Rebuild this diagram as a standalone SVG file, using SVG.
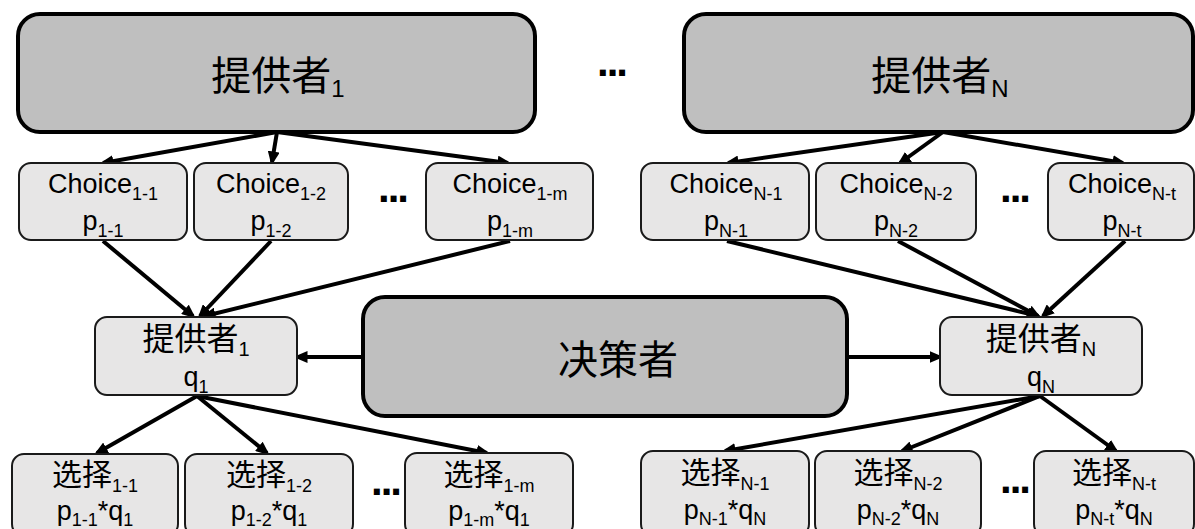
<svg xmlns="http://www.w3.org/2000/svg" width="1195" height="529" viewBox="0 0 1195 529">
<style>
.big{fill:#bfbfbf;stroke:#000;stroke-width:4}
.sm{fill:#e7e6e6;stroke:#1a1a1a;stroke-width:2}
text{font-family:"Liberation Sans","Noto Sans CJK SC",sans-serif;fill:#000;text-anchor:middle}
.t40{font-size:40px}
.t32{font-size:32px}
.t30{font-size:30px}
.t27{font-size:27px}
.dots{font-size:42px;font-weight:bold;text-anchor:start;letter-spacing:-2px}
.conn line{stroke:#000;stroke-width:4;marker-end:url(#ah)}
</style>
<defs>
<marker id="ah" viewBox="0 0 14 12" refX="10.5" refY="6" markerWidth="14" markerHeight="12" markerUnits="userSpaceOnUse" orient="auto">
<path d="M0,0 L14,6 L0,12 z" fill="#000"/>
</marker>
</defs>

<g class="conn" id="connectors">
<line x1="277" y1="132" x2="103" y2="163"/>
<line x1="277" y1="132" x2="272" y2="162"/>
<line x1="277" y1="132" x2="508" y2="163"/>
<line x1="943" y1="132" x2="728" y2="163"/>
<line x1="943" y1="132" x2="900" y2="163"/>
<line x1="943" y1="132" x2="1123" y2="163"/>
<line x1="103" y1="241" x2="193" y2="316"/>
<line x1="271" y1="241" x2="200" y2="316"/>
<line x1="510" y1="241" x2="205" y2="316"/>
<line x1="727" y1="241" x2="1038" y2="316"/>
<line x1="898" y1="241" x2="1038" y2="316"/>
<line x1="1125" y1="241" x2="1043" y2="316"/>
<line x1="363" y1="357" x2="297" y2="357"/>
<line x1="847" y1="357" x2="940" y2="357"/>
<line x1="197" y1="396" x2="97" y2="453"/>
<line x1="197" y1="396" x2="267" y2="453"/>
<line x1="197" y1="396" x2="487" y2="453"/>
<line x1="1040" y1="396" x2="725" y2="451"/>
<line x1="1040" y1="396" x2="902" y2="451"/>
<line x1="1040" y1="396" x2="1116" y2="451"/>
</g>

<g id="provider1">
<rect class="big" x="18" y="14" width="517" height="118" rx="22"/>
<text class="t40" x="278" y="90">提供者<tspan font-size="24" dy="7">1</tspan></text>
</g>
<g id="providerN">
<rect class="big" x="684" y="14" width="509" height="118" rx="22"/>
<text class="t40" x="940" y="90">提供者<tspan font-size="24" dy="7">N</tspan></text>
</g>
<text class="dots" x="597" y="76">...</text>

<g id="choice11">
<rect class="sm" x="19" y="163" width="168" height="77" rx="12"/>
<text class="t27" x="103" y="193">Choice<tspan font-size="18" dy="7">1-1</tspan></text>
<text class="t27" x="103" y="230">p<tspan font-size="18" dy="7">1-1</tspan></text>
</g>
<g id="choice12">
<rect class="sm" x="194" y="163" width="154" height="77" rx="12"/>
<text class="t27" x="271" y="193">Choice<tspan font-size="18" dy="7">1-2</tspan></text>
<text class="t27" x="271" y="230">p<tspan font-size="18" dy="7">1-2</tspan></text>
</g>
<text class="dots" x="378" y="202">...</text>
<g id="choice1m">
<rect class="sm" x="426" y="163" width="167" height="77" rx="12"/>
<text class="t27" x="510" y="193">Choice<tspan font-size="18" dy="7">1-m</tspan></text>
<text class="t27" x="510" y="230">p<tspan font-size="18" dy="7">1-m</tspan></text>
</g>

<g id="choiceN1">
<rect class="sm" x="641" y="163" width="168" height="77" rx="12"/>
<text class="t27" x="726" y="193">Choice<tspan font-size="18" dy="7">N-1</tspan></text>
<text class="t27" x="726" y="230">p<tspan font-size="18" dy="7">N-1</tspan></text>
</g>
<g id="choiceN2">
<rect class="sm" x="816" y="163" width="160" height="77" rx="12"/>
<text class="t27" x="896" y="193">Choice<tspan font-size="18" dy="7">N-2</tspan></text>
<text class="t27" x="896" y="230">p<tspan font-size="18" dy="7">N-2</tspan></text>
</g>
<text class="dots" x="1000" y="202">...</text>
<g id="choiceNt">
<rect class="sm" x="1048" y="163" width="146" height="77" rx="12"/>
<text class="t27" x="1122" y="193">Choice<tspan font-size="18" dy="7">N-t</tspan></text>
<text class="t27" x="1122" y="230">p<tspan font-size="18" dy="7">N-t</tspan></text>
</g>

<g id="midProvider1">
<rect class="sm" x="95" y="317" width="202" height="78" rx="12"/>
<text class="t32" x="196" y="350">提供者<tspan font-size="20" dy="6">1</tspan></text>
<text class="t27" x="196" y="386">q<tspan font-size="18" dy="7">1</tspan></text>
</g>
<g id="decider">
<rect class="big" x="363" y="297" width="484" height="119" rx="22"/>
<text class="t40" x="618" y="374">决策者</text>
</g>
<g id="midProviderN">
<rect class="sm" x="940" y="317" width="202" height="78" rx="12"/>
<text class="t32" x="1041" y="350">提供者<tspan font-size="20" dy="6">N</tspan></text>
<text class="t27" x="1041" y="386">q<tspan font-size="18" dy="7">N</tspan></text>
</g>

<g id="sel11">
<rect class="sm" x="12" y="454" width="166" height="82" rx="12"/>
<text class="t30" x="95" y="485">选择<tspan font-size="18" dy="7">1-1</tspan></text>
<text class="t27" x="95" y="520">p<tspan font-size="18" dy="6">1-1</tspan><tspan dy="-6">*q</tspan><tspan font-size="18" dy="6">1</tspan></text>
</g>
<g id="sel12">
<rect class="sm" x="185" y="454" width="168" height="82" rx="12"/>
<text class="t30" x="269" y="485">选择<tspan font-size="18" dy="7">1-2</tspan></text>
<text class="t27" x="269" y="520">p<tspan font-size="18" dy="6">1-2</tspan><tspan dy="-6">*q</tspan><tspan font-size="18" dy="6">1</tspan></text>
</g>
<text class="dots" x="371" y="495">...</text>
<g id="sel1m">
<rect class="sm" x="405" y="453" width="168" height="83" rx="12"/>
<text class="t30" x="489" y="485">选择<tspan font-size="18" dy="7">1-m</tspan></text>
<text class="t27" x="489" y="520">p<tspan font-size="18" dy="6">1-m</tspan><tspan dy="-6">*q</tspan><tspan font-size="18" dy="6">1</tspan></text>
</g>

<g id="selN1">
<rect class="sm" x="641" y="451" width="168" height="85" rx="12"/>
<text class="t30" x="725" y="483">选择<tspan font-size="18" dy="7">N-1</tspan></text>
<text class="t27" x="725" y="519">p<tspan font-size="18" dy="6">N-1</tspan><tspan dy="-6">*q</tspan><tspan font-size="18" dy="6">N</tspan></text>
</g>
<g id="selN2">
<rect class="sm" x="815" y="451" width="166" height="85" rx="12"/>
<text class="t30" x="898" y="483">选择<tspan font-size="18" dy="7">N-2</tspan></text>
<text class="t27" x="898" y="519">p<tspan font-size="18" dy="6">N-2</tspan><tspan dy="-6">*q</tspan><tspan font-size="18" dy="6">N</tspan></text>
</g>
<text class="dots" x="1000" y="493">...</text>
<g id="selNt">
<rect class="sm" x="1034" y="451" width="160" height="85" rx="12"/>
<text class="t30" x="1114" y="483">选择<tspan font-size="18" dy="7">N-t</tspan></text>
<text class="t27" x="1114" y="519">p<tspan font-size="18" dy="6">N-t</tspan><tspan dy="-6">*q</tspan><tspan font-size="18" dy="6">N</tspan></text>
</g>
</svg>
